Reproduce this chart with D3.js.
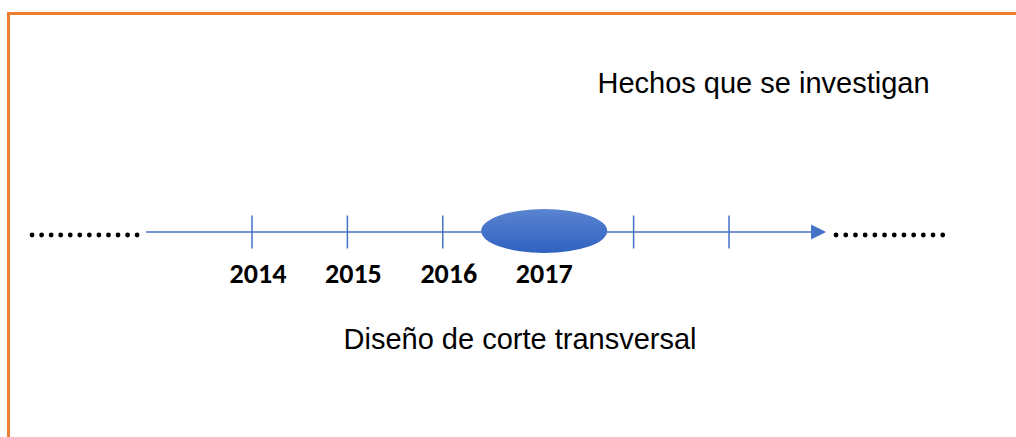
<!DOCTYPE html>
<html>
<head>
<meta charset="utf-8">
<script src="https://cdn.jsdelivr.net/npm/d3@7"></script>
<style>
  body { margin: 0; background: #fff; }
  svg { display: block; }
</style>
</head>
<body>
<div id="chart"></div>
<script>
// timeline data
const years = [2014, 2015, 2016, 2017, 2018, 2019];   // tick marks
const labels = [2014, 2015, 2016, 2017];              // labelled years
const focusYear = 2017;                                // studied year (ellipse)
const topText = "Hechos que se investigan";
const bottomText = "Diseño de corte transversal";
const dotCount = 12;

const width = 1016, height = 437;
const axisY = 232;

let svg = d3.select("#chart").append("svg")
    .attr("width", width)
    .attr("height", height);

let defs = svg.append("defs");

// ellipse gradient
let grad = defs.append("linearGradient")
    .attr("id", "blueFill")
    .attr("x1", 0).attr("y1", 0)
    .attr("x2", 0).attr("y2", 1);
grad.append("stop").attr("offset", "0%").attr("stop-color", "#5b84d0");
grad.append("stop").attr("offset", "100%").attr("stop-color", "#2f62c0");

// orange frame (top and left edges visible)
svg.append("path")
    .attr("d", "M8.5," + height + "V13.5H" + width)
    .attr("fill", "none")
    .attr("stroke", "#ed7d31")
    .attr("stroke-width", 3);

let x = d3.scaleLinear()
    .domain([2014, 2019])
    .range([252, 729]);

let step = x(2015) - x(2014);
let lineStart = x(2014) - step * 1.11;
let lineEnd = x(2019) + step * 0.86;
let arrowLen = 15;

// axis line
svg.append("line")
    .attr("x1", lineStart)
    .attr("x2", lineEnd)
    .attr("y1", axisY)
    .attr("y2", axisY)
    .attr("stroke", "#4472c4")
    .attr("stroke-width", 1.5);

// arrow head
svg.append("path")
    .attr("d", d3.line()([
      [lineEnd, axisY - 7.5],
      [lineEnd + arrowLen, axisY],
      [lineEnd, axisY + 7.5]
    ]) + "Z")
    .attr("fill", "#4472c4");

// ticks
svg.selectAll(".tick")
  .data(years.filter(d => d !== focusYear))
  .enter()
  .append("line")
    .attr("class", "tick")
    .attr("x1", d => x(d))
    .attr("x2", d => x(d))
    .attr("y1", axisY - 16.5)
    .attr("y2", axisY + 16.5)
    .attr("stroke", "#4472c4")
    .attr("stroke-width", 1.5);

// focus ellipse
svg.append("ellipse")
    .attr("cx", x(focusYear) + 6)
    .attr("cy", axisY - 1)
    .attr("rx", 63)
    .attr("ry", 22)
    .attr("fill", "url(#blueFill)");

// year labels
svg.selectAll(".year")
  .data(labels)
  .enter()
  .append("text")
    .attr("class", "year")
    .attr("x", d => x(d) + 6)
    .attr("y", 283)
    .attr("text-anchor", "middle")
    .style("font-family", "Carlito, 'Open Sans', sans-serif")
    .style("font-weight", 700)
    .style("font-size", "28px")
    .attr("fill", "#000")
    .text(d => d);

// dotted continuation on both sides
let leftDots = d3.range(dotCount).map(i => lineStart - 9 - (dotCount - 1 - i) * 9.55);
let rightDots = d3.range(dotCount).map(i => lineEnd + arrowLen + 10 + i * 9.7);

svg.selectAll(".dot")
  .data(leftDots.concat(rightDots))
  .enter()
  .append("circle")
    .attr("class", "dot")
    .attr("cx", d => d)
    .attr("cy", axisY + 3)
    .attr("r", 2.4)
    .attr("fill", "#000");

// captions
svg.append("text")
    .attr("x", 763.5)
    .attr("y", 93)
    .attr("text-anchor", "middle")
    .style("font-family", "'Liberation Sans', Arial, sans-serif")
    .style("font-size", "29px")
    .text(topText);

svg.append("text")
    .attr("x", 520)
    .attr("y", 349)
    .attr("text-anchor", "middle")
    .style("font-family", "'Liberation Sans', Arial, sans-serif")
    .style("font-size", "29px")
    .text(bottomText);
</script>
</body>
</html>
